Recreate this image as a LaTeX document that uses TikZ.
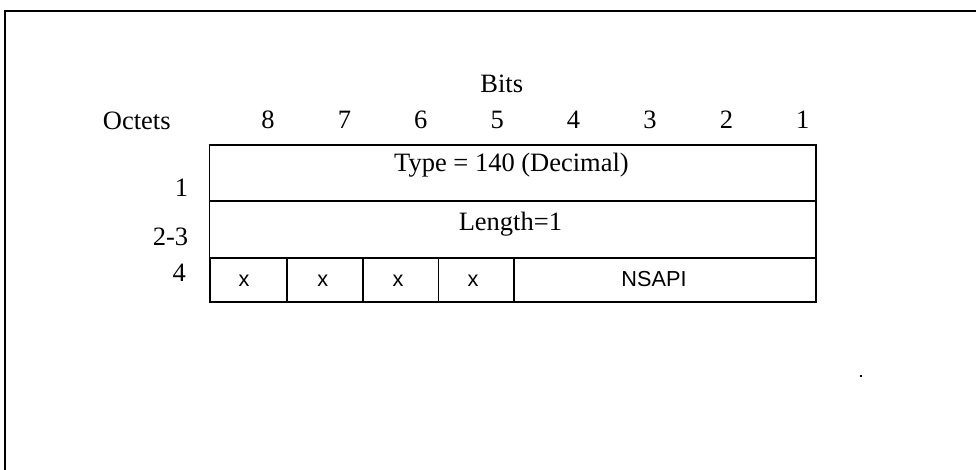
\documentclass[tikz,border=0pt]{standalone}
\usepackage{fontspec}
\setmainfont{Liberation Serif}
\newfontfamily\arialf{Liberation Sans}
\begin{document}
\begin{tikzpicture}[x=1pt,y=-1pt,
  cell/.style={draw, line width=1.8pt, inner sep=0pt, anchor=north west},
  ser/.style={font=\fontsize{26.5}{31}\selectfont, inner sep=0pt},
  san/.style={font=\arialf\fontsize{21.7}{26}\selectfont, inner sep=0pt}]
\useasboundingbox (0,0) rectangle (976,470);
\draw[line width=2pt] (5,471) -- (5,11) -- (977,11);
% header
\node[ser, anchor=base] (bits) at (501.7,92.7) {Bits};
\node[ser, anchor=base west] (oct) at (102.7,130) {Octets};
\foreach \n [count=\i from 0] in {8,7,6,5,4,3,2,1}
  \node[ser, anchor=base] (b\n) at ({268+76.4*\i},128.3) {\n};
% row labels
\node[ser, anchor=base east] (o1) at (188.3,196.7) {1};
\node[ser, anchor=base east] (o23) at (188.3,245) {2-3};
\node[ser, anchor=base east] (o4) at (186,281.7) {4};
% cells
\node[cell, minimum width=606.5pt, minimum height=56.7pt] (r1) at (208.5,143.8) {};
\node[cell, minimum width=606.5pt, minimum height=56.8pt] (r2) at (208.5,200.5) {};
\node[cell, minimum width=77pt, minimum height=43.4pt] (c8) at (209,257.3) {};
\node[cell, minimum width=76pt, minimum height=43.4pt] (c7) at (286,257.3) {};
\node[cell, minimum width=75.5pt, minimum height=43.4pt] (c6) at (362,257.3) {};
\node[cell, minimum width=75.5pt, minimum height=43.4pt] (c5) at (437.5,257.3) {};
\node[cell, minimum width=302pt, minimum height=43.4pt] (c41) at (513,257.3) {};
% texts
\node[ser, anchor=base] (t1) at (511.5,171.7) {Type = 140 (Decimal)};
\node[ser, anchor=base] (t2) at (510.4,230) {Length=1};
\node[san, anchor=base] (x8) at (244,286.7) {x};
\node[san, anchor=base] (x7) at (322.7,286.7) {x};
\node[san, anchor=base] (x6) at (398,286.7) {x};
\node[san, anchor=base] (x5) at (473,286.7) {x};
\node[san, anchor=base] (ns) at (654,286.7) {NSAPI};
% stray dot
\fill (859.7,374.7) rectangle (861.7,376.7);
\end{tikzpicture}
\end{document}
